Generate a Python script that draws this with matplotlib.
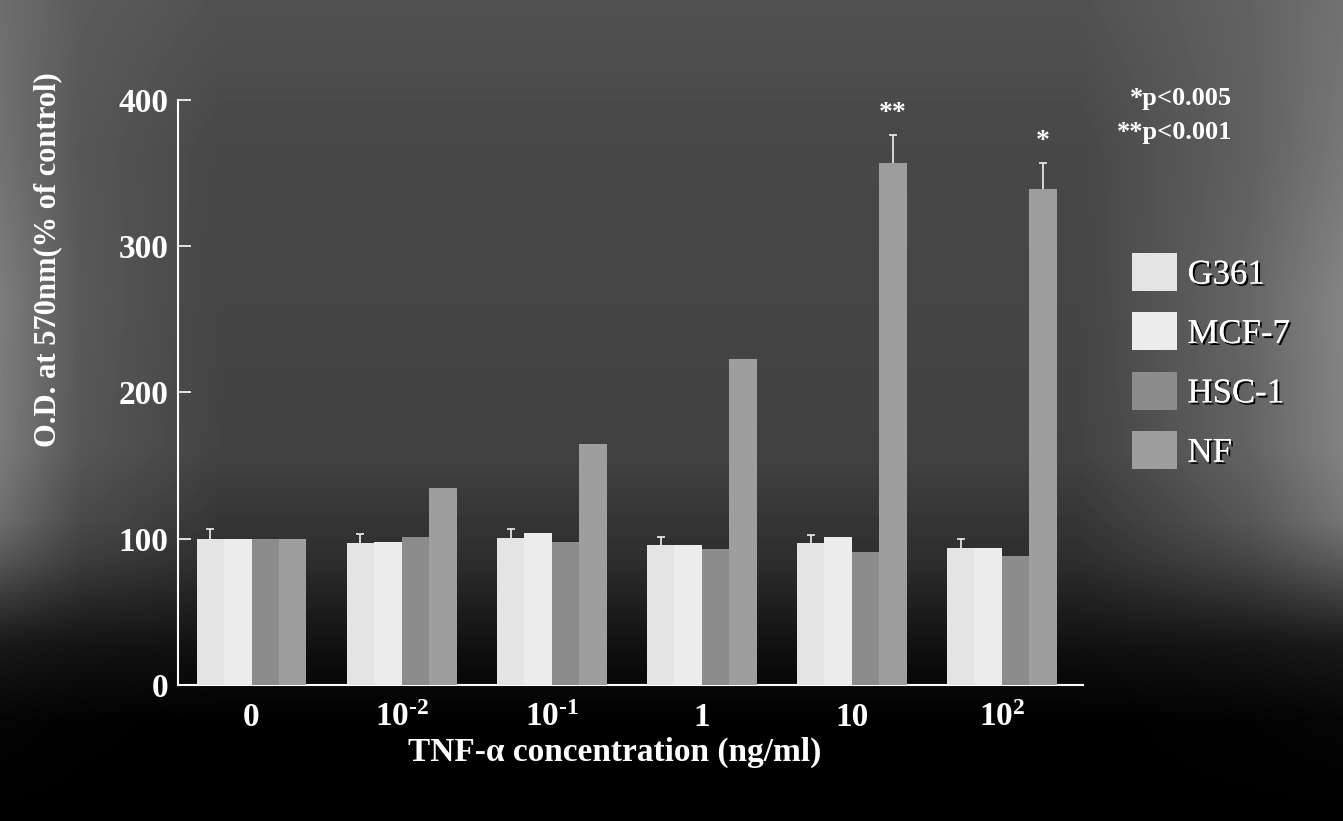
import numpy as np
import matplotlib
matplotlib.use('Agg')
import matplotlib.pyplot as plt
import matplotlib.patheffects as pe
from matplotlib.patches import Patch

plt.rcParams['font.family'] = ['Liberation Serif', 'DejaVu Serif']
plt.rcParams['mathtext.fontset'] = 'custom'
plt.rcParams['mathtext.rm'] = 'Liberation Serif'
plt.rcParams['mathtext.bf'] = 'Liberation Serif:bold'

# data
concentrations = ['0', '$\\mathbf{10^{\u20102}}$', '$\\mathbf{10^{\u20101}}$', '1', '10', r'$\mathbf{10^{2}}$']
cell_lines = ['G361', 'MCF-7', 'HSC-1', 'NF']
g361 = [100, 97, 100.5, 96, 97, 94]
mcf7 = [100, 98, 104, 95.5, 101, 94]
hsc1 = [100, 101, 98, 93, 91, 88]
nf = [100, 135, 165, 223, 357, 339]
g361_err = [7, 6, 6, 5, 5.5, 6]
mcf7_err = [0, 0, 0, 0, 0, 0]
hsc1_err = [0, 0, 0, 0, 0, 0]
nf_err = [0, 0, 0, 0, 19, 18]
stars = ['', '', '', '', '**', '*']

values = [g361, mcf7, hsc1, nf]
errors = [g361_err, mcf7_err, hsc1_err, nf_err]
colors = ['#e4e4e4', '#ececec', '#8c8c8c', '#9e9e9e']

W, H = 1343, 821
fig = plt.figure(figsize=(W / 100, H / 100), dpi=100)

# dark vignette background
bg_ax = fig.add_axes([0, 0, 1, 1], zorder=-10)
yy, xx = np.mgrid[0:H, 0:W]
vert = np.interp(yy, [0, 150, 450, 560, 650, 720, H], [0.32, 0.28, 0.26, 0.18, 0.06, 0.0, 0.0])
edge = np.interp(xx, [0, 80, 220, 1080, 1250, W], [0.22, 0.08, 0.0, 0.0, 0.13, 0.25])
mid = np.interp(yy, [0, 300, 520, 640, H], [0.5, 1.0, 1.0, 0.15, 0.0])
bg = np.clip(vert + edge * mid, 0, 1)
bg_ax.imshow(bg, cmap='gray', vmin=0, vmax=1, aspect='auto', interpolation='bilinear')
bg_ax.axis('off')

ax = fig.add_axes([178 / W, 1 - 685 / H, (1083 - 178) / W, (685 - 100) / H])
ax.set_facecolor('none')

x = np.arange(len(concentrations))
w = 0.183
for k in range(4):
    pos = x + (k - 1.5) * w
    ax.bar(pos, values[k], width=w, color=colors[k], edgecolor='none', zorder=3)
    err = np.array(errors[k])
    mask = err > 0
    if mask.any():
        ax.errorbar(pos[mask], np.array(values[k])[mask], yerr=err[mask], fmt='none',
                    ecolor='#f0f0f0', elinewidth=1.2, capsize=3, capthick=1.2, zorder=2)

nf_pos = x + 1.5 * w
for i, s in enumerate(stars):
    if s:
        ax.text(nf_pos[i], nf[i] + nf_err[i] + 6, s, ha='center', va='bottom',
                color='white', fontsize=20, fontweight='bold')

ax.set_xlim(-0.49, 5.54)
ax.set_ylim(0, 400)
ax.set_yticks([0, 100, 200, 300, 400])
ax.set_xticks(x)
ax.set_xticklabels(concentrations)
for s in ['top', 'right']:
    ax.spines[s].set_visible(False)
for s in ['left', 'bottom']:
    ax.spines[s].set_color('white')
    ax.spines[s].set_linewidth(1.5)
ax.tick_params(axis='y', direction='in', length=9, width=1.2, color='white', pad=7,
               labelcolor='white', labelsize=24)
ax.tick_params(axis='x', length=0, pad=12, labelcolor='white', labelsize=24)
for lab in ax.get_xticklabels() + ax.get_yticklabels():
    lab.set_fontweight('bold')

fig.text(48 / W, 1 - 260 / H, 'O.D. at 570nm(% of control)', rotation=90,
         ha='center', va='center', color='white', fontsize=22, fontweight='bold')
fig.text(615 / W, 1 - 752 / H, 'TNF-α concentration (ng/ml)', ha='center', va='center',
         color='white', fontsize=24, fontweight='bold')

fig.text(1232 / W, 1 - 98 / H, '*p<0.005', ha='right', va='center', color='white',
         fontsize=19, fontweight='bold')
fig.text(1232 / W, 1 - 132 / H, '**p<0.001', ha='right', va='center', color='white',
         fontsize=19, fontweight='bold')

handles = [Patch(facecolor=c, edgecolor='none') for c in colors]
leg = ax.legend(handles, cell_lines, loc='upper left', bbox_to_anchor=(1132 / W, 1 - 253 / H),
                bbox_transform=fig.transFigure, frameon=False, fontsize=25,
                handlelength=1.3, handleheight=1.3, handletextpad=0.3, labelspacing=0.6,
                borderpad=0, borderaxespad=0)
for t in leg.get_texts():
    t.set_color('white')
    t.set_path_effects([pe.withSimplePatchShadow(offset=(1.5, -1.5), shadow_rgbFace='black', alpha=1),
                        pe.Normal()])

fig.savefig('out.png', dpi=100)
